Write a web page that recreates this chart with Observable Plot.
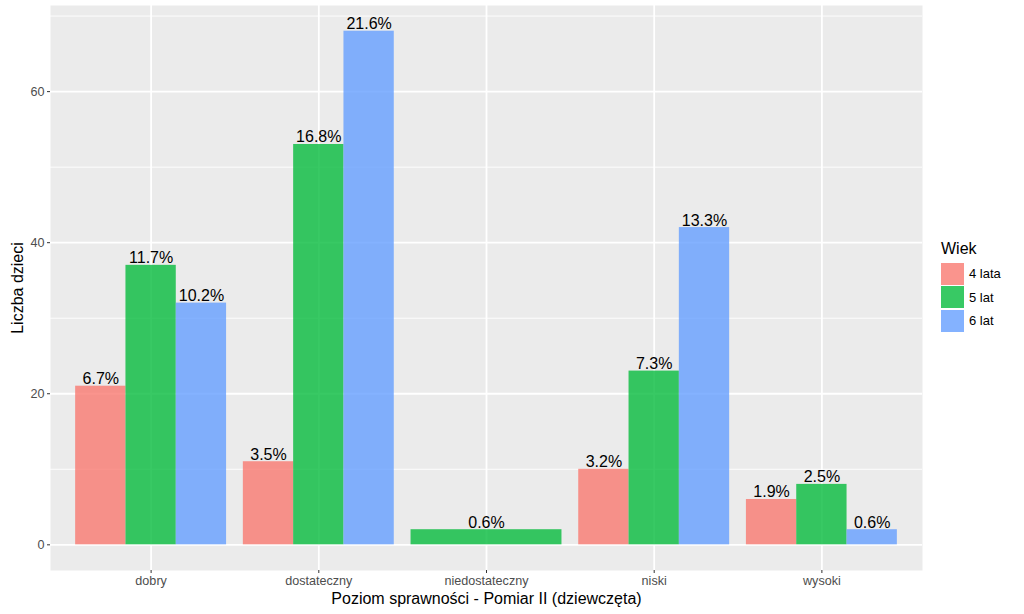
<!DOCTYPE html>
<html>
<head>
<meta charset="utf-8">
<script src="https://cdn.jsdelivr.net/npm/d3@7"></script>
<script src="https://cdn.jsdelivr.net/npm/@observablehq/plot@0.6"></script>
<style>
  html, body { margin: 0; padding: 0; background: #fff; }
  body { font-family: "Liberation Sans", Arial, sans-serif; }
  #wrap { position: relative; width: 1024px; height: 614px; }
  #legend { position: absolute; left: 941px; top: 240px; font-family: "Liberation Sans", Arial, sans-serif; }
  #legend .title { font-size: 16px; color: #000; margin-bottom: 4px; margin-left: 0px; line-height: 18px; }
  #legend .row { display: flex; align-items: center; height: 23.5px; }
  #legend .sw { width: 23px; height: 22px; margin-right: 5px; }
  #legend .lab { font-size: 13px; color: #000; }
</style>
</head>
<body>
<div id="wrap"><div id="chart"></div><div id="legend"></div></div>
<script>
// ---- data ----
const categories = ["dobry", "dostateczny", "niedostateczny", "niski", "wysoki"];
const groups = ["4 lata", "5 lat", "6 lat"];
const colors = ["#F8766D", "#00BA38", "#619CFF"];
const counts4 = [21, 11, null, 10, 6];
const counts5 = [37, 53, 2, 23, 8];
const counts6 = [32, 68, null, 42, 2];
const pct4 = ["6.7%", "3.5%", null, "3.2%", "1.9%"];
const pct5 = ["11.7%", "16.8%", "0.6%", "7.3%", "2.5%"];
const pct6 = ["10.2%", "21.6%", null, "13.3%", "0.6%"];
const yTicks = [0, 20, 40, 60];
const yMinor = [10, 30, 50, 70];
const xTitle = "Poziom sprawności - Pomiar II (dziewczęta)";
const yTitle = "Liczba dzieci";

// ---- build table (ggplot-style dodge: width 0.9 split among present groups) ----
const countsByGroup = [counts4, counts5, counts6];
const pctByGroup = [pct4, pct5, pct6];
const rows = [];
categories.forEach((cat, i) => {
  const present = groups.map((g, k) => k).filter(k => countsByGroup[k][i] != null);
  const n = present.length;
  const pos = i + 1;
  present.forEach((k, j) => {
    const x1 = pos - 0.45 + j * 0.9 / n;
    const x2 = x1 + 0.9 / n;
    rows.push({cat, group: groups[k], value: countsByGroup[k][i], label: pctByGroup[k][i], x1, x2, xm: (x1 + x2) / 2});
  });
});
const catPos = categories.map((c, i) => i + 1);

const font = "'Liberation Sans', Arial, sans-serif";
const chart = Plot.plot({
  width: 1024,
  height: 614,
  marginLeft: 50,
  marginRight: 102,
  marginTop: 5,
  marginBottom: 44,
  style: {fontFamily: font, background: "#fff", overflow: "visible"},
  x: {domain: [0.4, 5.6], axis: null},
  y: {domain: [-3.4, 71.4], axis: null},
  color: {domain: groups, range: colors},
  marks: [
    Plot.frame({fill: "#EBEBEB", stroke: "none"}),
    Plot.gridY(yMinor, {stroke: "#fff", strokeOpacity: 1, strokeWidth: 0.9}),
    Plot.gridY(yTicks, {stroke: "#fff", strokeOpacity: 1, strokeWidth: 1.8}),
    Plot.gridX(catPos, {stroke: "#fff", strokeOpacity: 1, strokeWidth: 1.8}),
    Plot.rectY(rows, {x1: "x1", x2: "x2", y1: 0, y2: "value", fill: "group", fillOpacity: 0.78}),
    Plot.text(rows, {x: "xm", y: "value", text: "label", lineAnchor: "bottom", dy: -2, fontSize: 16, fill: "#000"}),
    Plot.axisY({ticks: yTicks, tickSize: 3, tickPadding: 3, fontSize: 12.6, color: "#4D4D4D", stroke: "#333", label: null}),
    Plot.axisX({ticks: catPos, tickFormat: d => categories[d - 1], tickSize: 3, tickPadding: 3, fontSize: 12.6, color: "#4D4D4D", stroke: "#333", label: null}),
    Plot.text([xTitle], {frameAnchor: "bottom", textAnchor: "middle", dy: 28, lineAnchor: "middle", fontSize: 16, fill: "#000", text: d => d}),
    Plot.text([yTitle], {frameAnchor: "left", textAnchor: "middle", lineAnchor: "middle", dx: -33, rotate: -90, fontSize: 16, fill: "#000", text: d => d})
  ]
});
document.getElementById("chart").appendChild(chart);

// ---- legend ----
const lg = document.getElementById("legend");
const t = document.createElement("div");
t.className = "title"; t.textContent = "Wiek"; lg.appendChild(t);
groups.forEach((g, k) => {
  const r = document.createElement("div"); r.className = "row";
  const s = document.createElement("div"); s.className = "sw";
  s.style.background = colors[k]; s.style.opacity = 0.78;
  const l = document.createElement("div"); l.className = "lab"; l.textContent = g;
  r.appendChild(s); r.appendChild(l); lg.appendChild(r);
});
</script>
</body>
</html>
